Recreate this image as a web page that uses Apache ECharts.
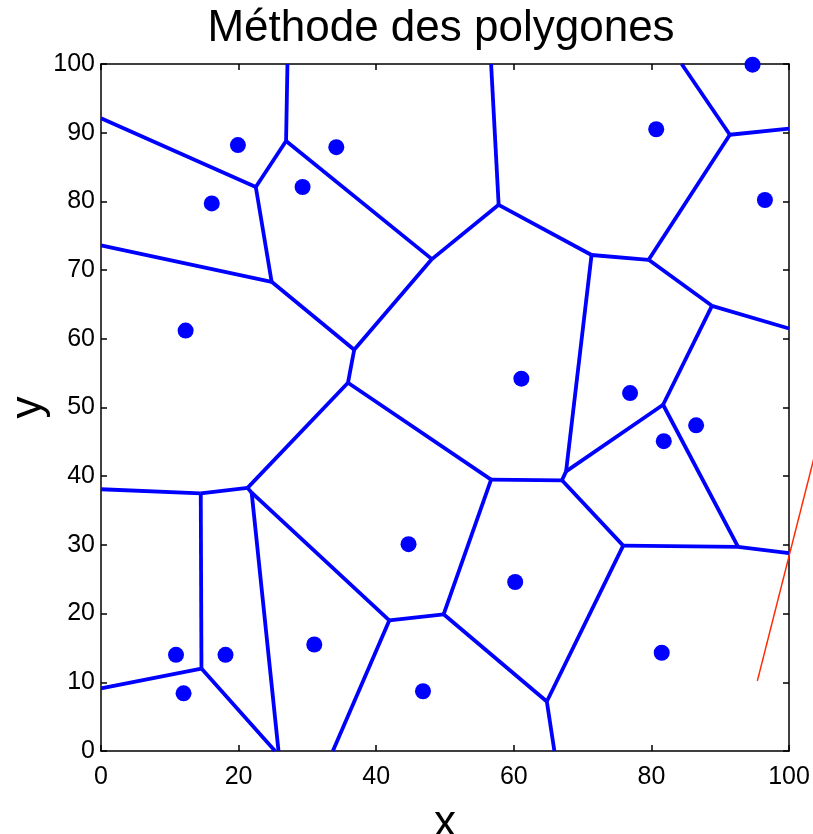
<!DOCTYPE html>
<html>
<head>
<meta charset="utf-8">
<script src="https://cdn.jsdelivr.net/npm/echarts@6/dist/echarts.min.js"></script>
<style>
html,body{margin:0;padding:0;background:#fff;}
#chart{width:813px;height:834px;}
</style>
</head>
<body>
<div id="chart"></div>
<script>
// Site points (generators)
const siteX = [19.9, 16.1, 29.3, 34.2, 80.7, 94.7, 96.5, 12.3, 61.1, 76.9, 86.5, 81.8, 44.7, 60.2, 31.0, 10.9, 18.1, 12.0, 46.8, 81.5];
const siteY = [88.2, 79.7, 82.1, 87.9, 90.5, 99.9, 80.2, 61.2, 54.2, 52.1, 47.4, 45.1, 30.1, 24.6, 15.5, 14.0, 14.0, 8.4, 8.7, 14.3];

// Voronoi vertices
const vertX = [0, 22.5, 26.9, 27.1, 48.1, 57.8, 56.7, 24.8, 0, 36.8, 35.9, 21.3, 21.9, 14.5, 0, 14.6, 0, 25.3, 25.8, 41.9, 33.7, 49.8, 56.7, 67.0, 67.6, 71.3, 79.6, 91.4, 84.4, 100, 88.8, 100, 81.7, 92.6, 100, 75.9, 64.8, 65.9];
const vertY = [92.1, 82.1, 88.8, 100, 71.6, 79.5, 100, 68.3, 73.6, 58.4, 53.6, 38.3, 37.6, 37.5, 38.1, 12.0, 9.1, 0, 0, 19.0, 0, 19.9, 39.5, 39.4, 40.7, 72.2, 71.5, 89.7, 100, 90.6, 64.8, 61.5, 50.4, 29.7, 28.8, 29.9, 7.2, 0];

// Voronoi edges as vertex index pairs
const edgeFrom = [0, 1, 2, 2, 4, 5, 1, 8, 7, 9, 9, 10, 11, 11, 14, 13, 16, 15, 12, 12, 19, 19, 21, 10, 22, 23, 24, 25, 25, 26, 27, 27, 26, 30, 30, 32, 32, 33, 33, 35, 35, 36, 36];
const edgeTo   = [1, 2, 3, 4, 5, 6, 7, 7, 9, 4, 10, 11, 12, 13, 13, 15, 15, 17, 18, 19, 20, 21, 22, 22, 23, 24, 25, 5, 26, 27, 28, 29, 30, 31, 32, 24, 33, 34, 35, 23, 36, 21, 37];

// Stray red segment
const redX = [95.4, 106];
const redY = [10.2, 52.0];

const xTicks = [0, 20, 40, 60, 80, 100];
const yTicks = [0, 10, 20, 30, 40, 50, 60, 70, 80, 90, 100];

const FONT = '"Liberation Sans", Arial, sans-serif';

const series = [];
for (let i = 0; i < edgeFrom.length; i++) {
  const a = edgeFrom[i], b = edgeTo[i];
  series.push({
    type: 'line',
    xAxisIndex: 0, yAxisIndex: 0,
    data: [[vertX[a], vertY[a]], [vertX[b], vertY[b]]],
    symbol: 'none',
    clip: true,
    silent: true,
    lineStyle: { color: '#0000ff', width: 3.8 },
    z: 2
  });
}
series.push({
  type: 'scatter',
  xAxisIndex: 0, yAxisIndex: 0,
  data: siteX.map((x, i) => [x, siteY[i]]),
  symbol: 'circle',
  symbolSize: 16,
  itemStyle: { color: '#0000ff', opacity: 1 },
  z: 3
});
series.push({
  type: 'custom',
  xAxisIndex: 0, yAxisIndex: 0,
  clip: false,
  silent: true,
  data: [[redX[0], redY[0], redX[1], redY[1]]],
  renderItem: function (params, api) {
    const p1 = api.coord([api.value(0), api.value(1)]);
    const p2 = api.coord([api.value(2), api.value(3)]);
    return {
      type: 'line',
      shape: { x1: p1[0], y1: p1[1], x2: p2[0], y2: p2[1] },
      style: { stroke: '#ff2a00', lineWidth: 1.5 }
    };
  },
  z: 4
});

const chart = echarts.init(document.getElementById('chart'), null, { renderer: 'canvas' });
const axisCommon = {
  type: 'value', min: 0, max: 100,
  splitLine: { show: false },
  axisLine: { show: true, onZero: false, lineStyle: { color: '#000', width: 1.5 } },
  axisTick: { show: true, inside: true, length: 6, lineStyle: { color: '#000', width: 1.5 } }
};
chart.setOption({
  animation: false,
  backgroundColor: '#fff',
  title: {
    text: 'Méthode des polygones',
    left: 436, top: 2, textAlign: 'center',
    textStyle: { fontFamily: FONT, fontSize: 44, fontWeight: 'normal', color: '#000' }
  },
  grid: { left: 101, right: 24, top: 64, bottom: 83, containLabel: false, outerBoundsMode: 'none' },
  xAxis: [
    Object.assign({}, axisCommon, {
      position: 'bottom', interval: 20,
      name: 'x', nameLocation: 'middle', nameGap: 51, nameMoveOverlap: false,
      nameTextStyle: { fontFamily: FONT, fontSize: 44, color: '#000' },
      axisLabel: { fontFamily: FONT, fontSize: 25, color: '#000', margin: 14,
        formatter: v => xTicks.includes(v) ? String(v) : '' }
    }),
    Object.assign({}, axisCommon, {
      position: 'top', interval: 20,
      axisLabel: { show: false }
    })
  ],
  yAxis: [
    Object.assign({}, axisCommon, {
      position: 'left', interval: 10,
      name: 'y', nameLocation: 'middle', nameGap: 50, nameRotate: 90, nameMoveOverlap: false,
      nameTextStyle: { fontFamily: FONT, fontSize: 44, color: '#000' },
      axisLabel: { fontFamily: FONT, fontSize: 25, color: '#000', margin: 6,
        formatter: v => yTicks.includes(v) ? String(v) : '' }
    }),
    Object.assign({}, axisCommon, {
      position: 'right', interval: 10,
      axisLabel: { show: false }
    })
  ],
  series: series
});
</script>
</body>
</html>
